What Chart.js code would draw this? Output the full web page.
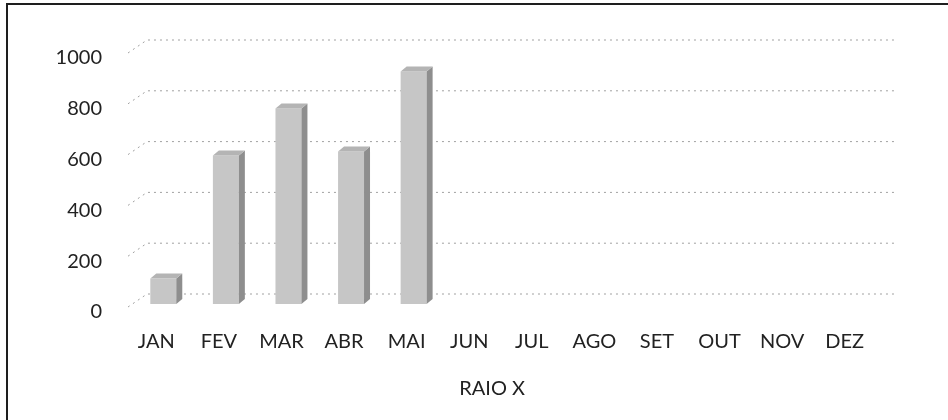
<!DOCTYPE html>
<html lang="pt-br">
<head>
  <meta charset="UTF-8">
  <title>Raio X</title>
  <script src="https://cdn.jsdelivr.net/npm/chart.js"></script>
  <style>
    body { margin: 0; background: #fff; overflow: hidden; }
    .moldura {
      position: absolute; left: 6px; top: 3px; width: 960px; height: 430px;
      border-top: 2px solid #1e1e1e; border-left: 2px solid #1e1e1e;
    }
    .grafico { position: absolute; left: 0; top: 0; width: 948px; height: 420px; }
  </style>
</head>
<body>
  <div class="moldura"></div>
  <div class="grafico"><canvas id="grafico-raio-x"></canvas></div>

  <script>
    // dados
    const meses = ['JAN', 'FEV', 'MAR', 'ABR', 'MAI', 'JUN', 'JUL', 'AGO', 'SET', 'OUT', 'NOV', 'DEZ'];
    const raioX = [100, 585, 770, 600, 915, null, null, null, null, null, null, null];
    const ticksY = [0, 200, 400, 600, 800, 1000];

    // profundidade do efeito 3D
    const DX = 6, DY = -5;

    // parede do fundo: linhas pontilhadas deslocadas
    const paredeFundo = {
      id: 'paredeFundo',
      beforeDatasetsDraw(chart) {
        const { ctx, chartArea, scales } = chart;
        ctx.save();
        ctx.strokeStyle = '#a0a0a0';
        ctx.lineWidth = 1;
        ctx.setLineDash([2, 4]);
        ticksY.forEach(v => {
          const py = scales.y.getPixelForValue(v);
          ctx.beginPath();
          ctx.moveTo(chartArea.left - 4, py + 3);
          ctx.lineTo(chartArea.left + 15, py - 10);
          ctx.lineTo(chartArea.right + 11, py - 10);
          ctx.stroke();
        });
        ctx.restore();
      }
    };

    // faces lateral e superior das barras
    const barras3d = {
      id: 'barras3d',
      afterDatasetsDraw(chart) {
        const { ctx } = chart;
        const meta = chart.getDatasetMeta(0);
        ctx.save();
        meta.data.forEach((bar, i) => {
          if (raioX[i] == null) return;
          const { x, y, base, width } = bar.getProps(['x', 'y', 'base', 'width'], true);
          const esq = x - width / 2, dir = x + width / 2;
          // lateral
          ctx.fillStyle = '#8e8e8e';
          ctx.beginPath();
          ctx.moveTo(dir, y);
          ctx.lineTo(dir + DX, y + DY);
          ctx.lineTo(dir + DX, base + DY);
          ctx.lineTo(dir, base);
          ctx.closePath();
          ctx.fill();
          // topo
          ctx.fillStyle = '#b4b4b4';
          ctx.beginPath();
          ctx.moveTo(esq, y);
          ctx.lineTo(esq + DX, y + DY);
          ctx.lineTo(dir + DX, y + DY);
          ctx.lineTo(dir, y);
          ctx.closePath();
          ctx.fill();
        });
        ctx.restore();
      }
    };

    const fonte = { family: 'Lato', size: 20 };

    new Chart(document.getElementById('grafico-raio-x'), {
      type: 'bar',
      data: {
        labels: meses,
        datasets: [{
          label: 'RAIO X',
          data: raioX,
          backgroundColor: '#c6c6c6',
          borderWidth: 0,
          barPercentage: 0.415,
          categoryPercentage: 1
        }]
      },
      options: {
        responsive: true,
        maintainAspectRatio: false,
        animation: false,
        layout: { padding: { top: 50, right: 65, bottom: 19, left: 0 } },
        plugins: {
          legend: { display: false },
          tooltip: { enabled: false }
        },
        scales: {
          x: {
            afterFit: scale => { scale.height = 97; },
            grid: { display: false, drawTicks: false },
            border: { display: false },
            ticks: { font: fonte, color: '#222', padding: 26, labelOffset: -7, maxRotation: 0, autoSkip: false },
            title: {
              display: true,
              text: 'RAIO X\u00a0\u00a0\u00a0\u00a0\u00a0\u00a0',
              font: fonte,
              color: '#222',
              padding: { top: 23, bottom: 0 }
            }
          },
          y: {
            min: 0,
            max: 1000,
            afterBuildTicks: scale => { scale.ticks = ticksY.map(v => ({ value: v })); },
            afterFit: scale => { scale.width = 132; },
            grid: { display: false, drawTicks: false },
            border: { display: false },
            ticks: { font: fonte, color: '#222', padding: 30, labelOffset: 8, callback: v => String(v) }
          }
        }
      },
      plugins: [paredeFundo, barras3d]
    });
  </script>
</body>
</html>
